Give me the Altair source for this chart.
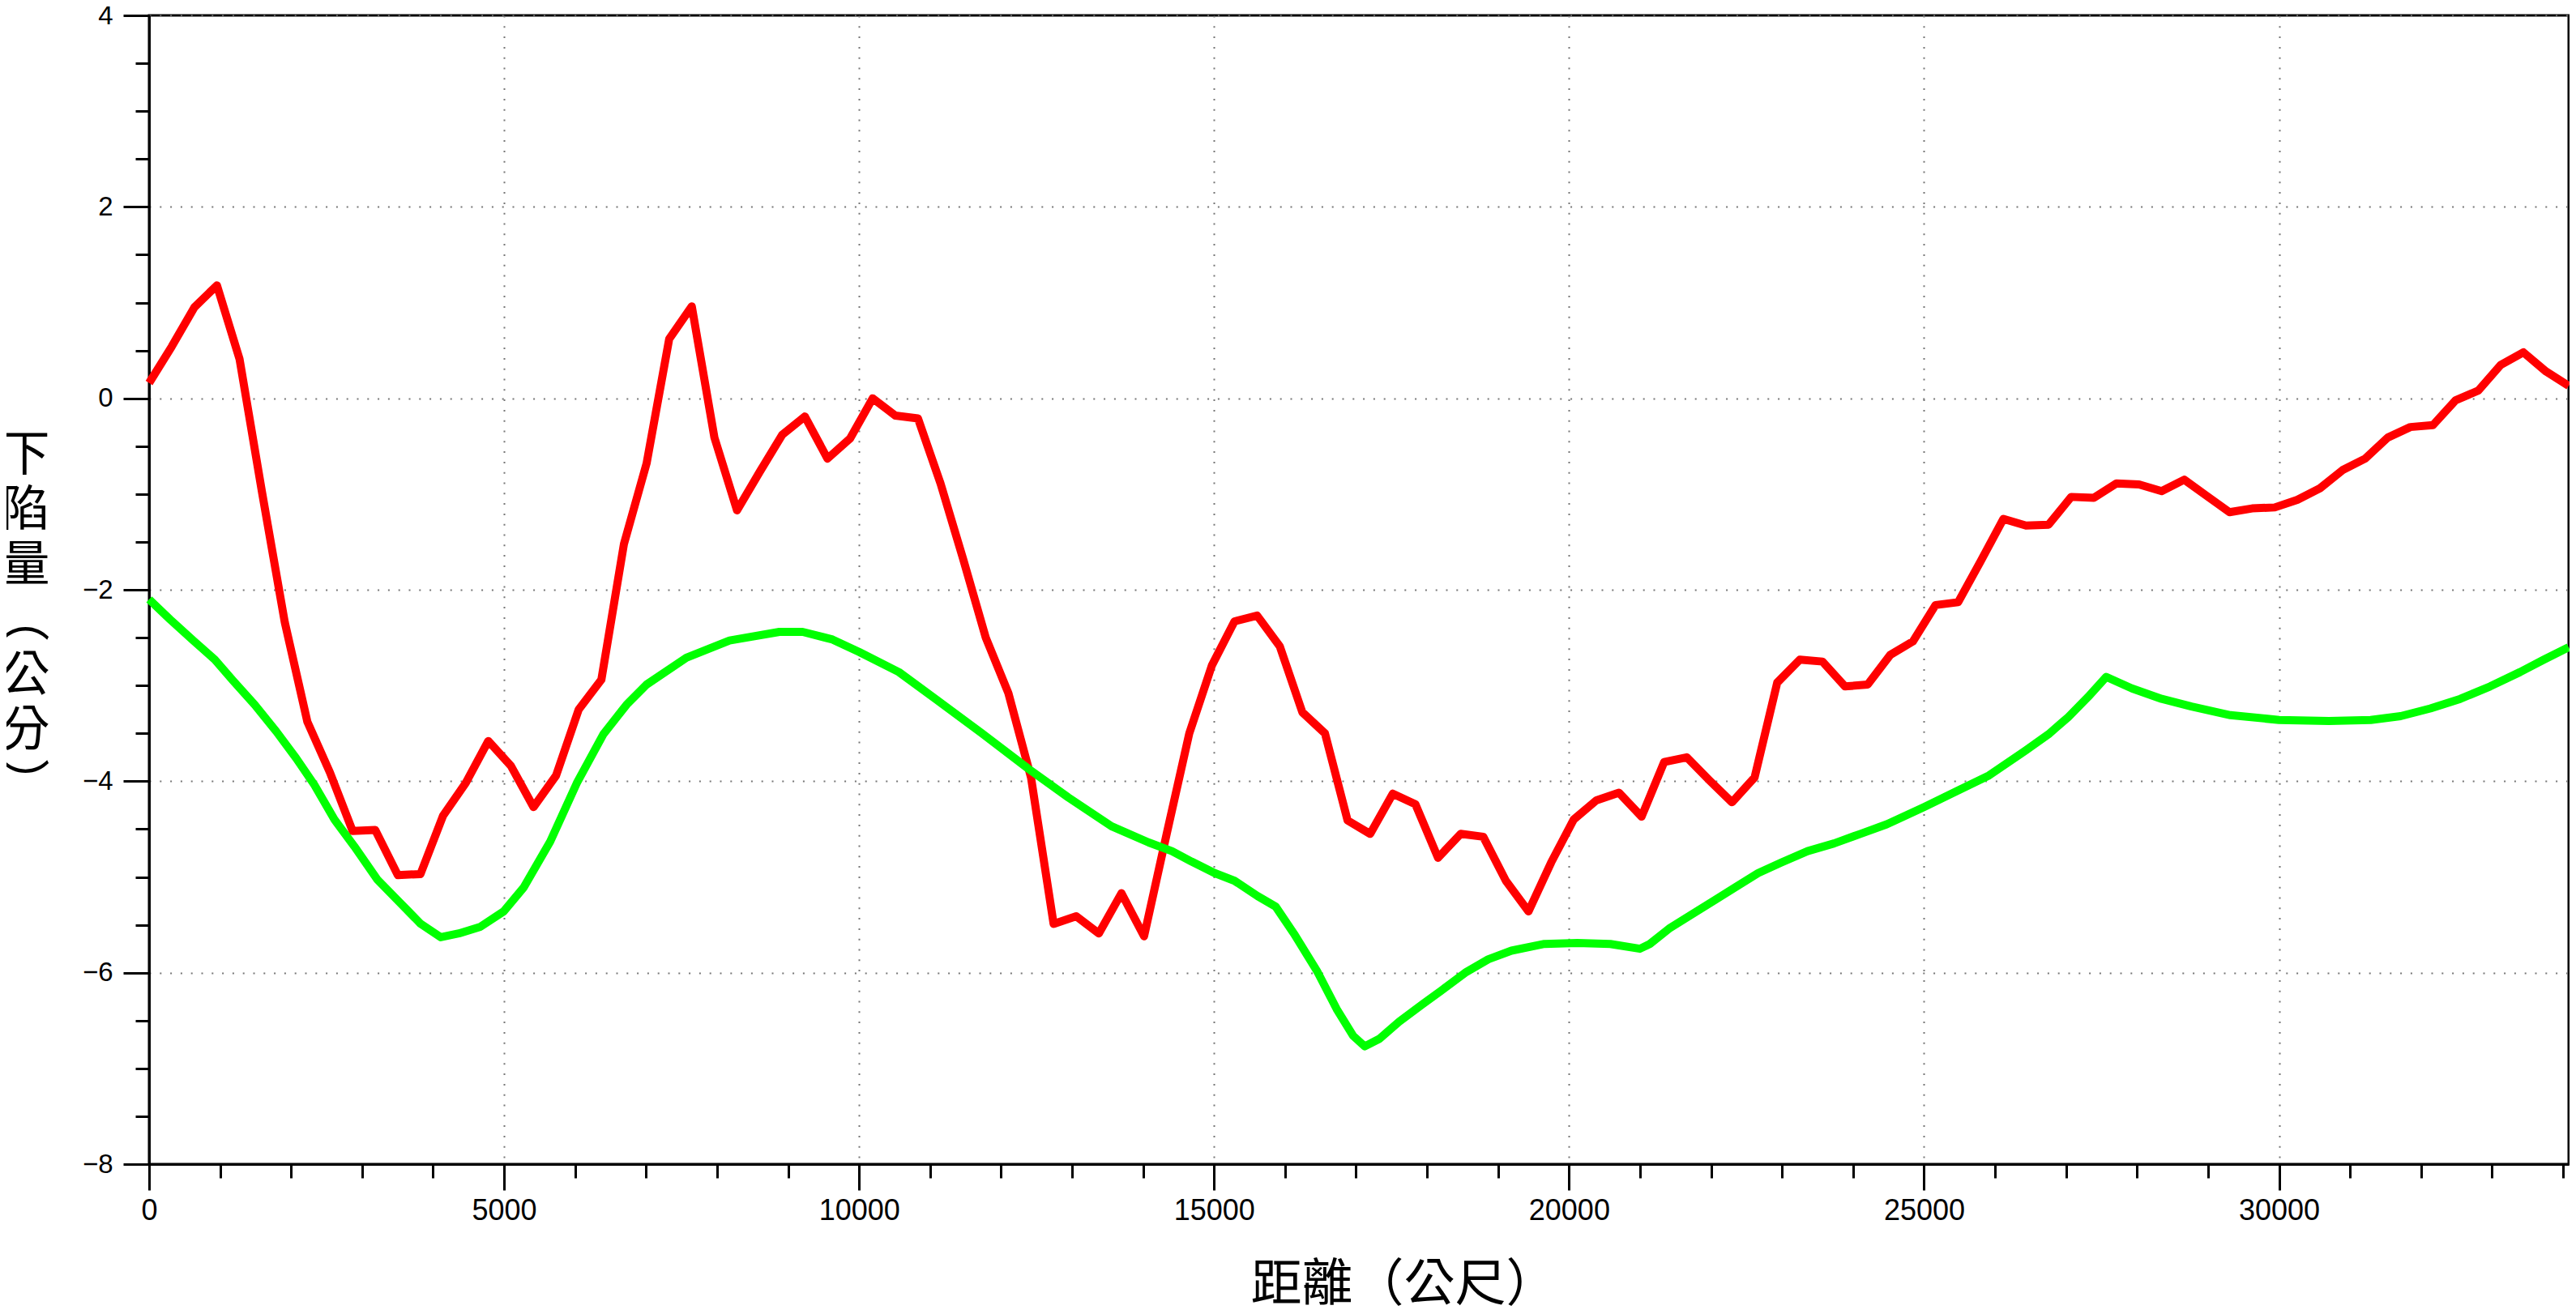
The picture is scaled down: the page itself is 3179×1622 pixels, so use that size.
import altair as alt
import pandas as pd

# ---- data ----
distance_m = [
    0, 318.5, 637, 955.5, 1274, 1592.5, 1911, 2229.5, 2548, 2866.5,
    3185, 3503.5, 3822, 4140.5, 4459, 4777.5, 5096, 5414.5, 5733, 6051.5,
    6370, 6688.5, 7007, 7325.5, 7644, 7962.5, 8281, 8599.5, 8918, 9236.5,
    9555, 9873.5, 10192, 10510.5, 10829, 11147.5, 11466, 11784.5, 12103, 12421.5,
    12740, 13058.5, 13377, 13695.5, 14014, 14332.5, 14651, 14969.5, 15288, 15606.5,
    15925, 16243.5, 16562, 16880.5, 17199, 17517.5, 17836, 18154.5, 18473, 18791.5,
    19110, 19428.5, 19747, 20065.5, 20384, 20702.5, 21021, 21339.5, 21658, 21976.5,
    22295, 22613.5, 22932, 23250.5, 23569, 23887.5, 24206, 24524.5, 24843, 25161.5,
    25480, 25798.5, 26117, 26435.5, 26754, 27072.5, 27391, 27709.5, 28028, 28346.5,
    28665, 28983.5, 29302, 29620.5, 29939, 30257.5, 30576, 30894.5, 31213, 31531.5,
    31850, 32168.5, 32487, 32805.5, 33124, 33442.5, 33761, 34079.5,
]
red_cm = [
    0.16, 0.54, 0.95, 1.18, 0.41, -0.99, -2.34, -3.38, -3.91, -4.52,
    -4.51, -4.98, -4.97, -4.36, -4.02, -3.58, -3.84, -4.27, -3.94, -3.25,
    -2.94, -1.52, -0.68, 0.62, 0.96, -0.41, -1.17, -0.77, -0.38, -0.19,
    -0.63, -0.42, 0.00, -0.18, -0.21, -0.89, -1.68, -2.50, -3.08, -3.96,
    -5.49, -5.41, -5.59, -5.17, -5.62, -4.55, -3.50, -2.79, -2.33, -2.27,
    -2.59, -3.28, -3.50, -4.41, -4.55, -4.13, -4.24, -4.80, -4.55, -4.58,
    -5.04, -5.36, -4.85, -4.40, -4.20, -4.12, -4.37, -3.80, -3.75, -3.99,
    -4.22, -3.96, -2.97, -2.73, -2.75, -3.01, -2.99, -2.68, -2.54, -2.16,
    -2.13, -1.70, -1.26, -1.33, -1.32, -1.03, -1.04, -0.89, -0.90, -0.97,
    -0.85, -1.02, -1.19, -1.15, -1.14, -1.06, -0.94, -0.75, -0.63, -0.41,
    -0.30, -0.28, -0.02, 0.08, 0.35, 0.48, 0.28, 0.13,
]
green_distance_m = [
    0, 295, 622, 926, 1183, 1487, 1791, 2072, 2329, 2610,
    2890, 3218, 3522, 3826, 4107, 4364, 4668, 4995, 5276, 5650,
    6024, 6398, 6726, 7007, 7568, 8176, 8877, 9205, 9626, 10000,
    10561, 11076, 11731, 12385, 12947, 13555, 14081, 14406, 14684, 15009,
    15288, 15613, 15868, 16123, 16448, 16727, 16959, 17122, 17330, 17609,
    17934, 18213, 18538, 18863, 19188, 19652, 20116, 20581, 20998, 21137,
    21408, 21733, 22059, 22337, 22663, 22988, 23360, 23732, 24103, 24475,
    25000, 25497, 25915, 26427, 26752, 27031, 27310, 27565, 27927, 28347,
    28768, 29315, 30000, 30702, 31291, 31712, 32132, 32553, 32973, 33394,
    33730, 34079,
]
green_cm = [
    -2.10, -2.31, -2.53, -2.73, -2.95, -3.20, -3.48, -3.76, -4.04, -4.40,
    -4.68, -5.03, -5.26, -5.49, -5.63, -5.59, -5.52, -5.36, -5.11, -4.63,
    -4.02, -3.51, -3.20, -2.99, -2.71, -2.53, -2.44, -2.44, -2.52, -2.65,
    -2.86, -3.14, -3.50, -3.87, -4.17, -4.47, -4.64, -4.73, -4.84, -4.96,
    -5.04, -5.20, -5.31, -5.59, -5.98, -6.38, -6.66, -6.77, -6.69, -6.51,
    -6.33, -6.18, -6.00, -5.86, -5.77, -5.70, -5.69, -5.70, -5.75, -5.70,
    -5.54, -5.39, -5.24, -5.11, -4.96, -4.85, -4.73, -4.65, -4.55, -4.45,
    -4.27, -4.09, -3.94, -3.68, -3.51, -3.33, -3.12, -2.91, -3.03, -3.14,
    -3.22, -3.31, -3.36, -3.37, -3.36, -3.32, -3.24, -3.14, -3.01, -2.86,
    -2.73, -2.60,
]

x_major_ticks = [0, 5000, 10000, 15000, 20000, 25000, 30000]
x_minor_ticks = [1000 * k for k in range(35)]
y_major_ticks = [-8, -6, -4, -2, 0, 2, 4]
y_minor_ticks = [-8 + 0.5 * k for k in range(25)]

x_title = "距離（公尺）"
y_title = ["下", "陷", "量", "︵", "公", "分", "︶"]

red_df = pd.DataFrame({"dist": distance_m, "val": red_cm})
green_df = pd.DataFrame({"dist": green_distance_m, "val": green_cm})

LABEL_FONT = "Liberation Sans"
CJK_FONT = "Noto Sans CJK TC"

x_scale = alt.Scale(domain=[0, 34080], nice=False, zero=False)
y_scale = alt.Scale(domain=[-8, 4], nice=False, zero=False)

x_axis_major = alt.Axis(
    orient="bottom", values=x_major_ticks, format="d",
    grid=True, gridColor="#777777", gridWidth=2, gridDash=[2, 10.8],
    domain=True, domainColor="black", domainWidth=3,
    ticks=True, tickSize=32, tickWidth=3, tickColor="black",
    labelFont=LABEL_FONT, labelFontSize=36, labelColor="black", labelPadding=8,
    labelFlush=False, labelOverlap=False,
    title=x_title, titleFont=CJK_FONT, titleFontSize=63, titleFontWeight="normal",
    titleColor="black", titleAnchor="start", titleAlign="center",
    titleX=1548, titleY=148, titleBaseline="middle",
)
y_axis_major = alt.Axis(
    orient="left", values=y_major_ticks, format="d",
    grid=True, gridColor="#777777", gridWidth=2, gridDash=[2, 10.8],
    domain=True, domainColor="black", domainWidth=3,
    ticks=True, tickSize=32, tickWidth=3, tickColor="black",
    labelFont=LABEL_FONT, labelFontSize=33, labelColor="black", labelPadding=13,
    labelFlush=False, labelOverlap=False,
    title=y_title, titleFont=CJK_FONT, titleFontSize=60, titleFontWeight="normal",
    titleColor="black", titleAngle=0, titleAlign="center", titleBaseline="top",
    titleLineHeight=68, titleX=-153, titleY=514,
)
x_axis_minor = alt.Axis(
    orient="bottom", values=x_minor_ticks, labels=False, grid=False, domain=False,
    ticks=True, tickSize=17, tickWidth=3, tickColor="black", title=None,
)
y_axis_minor = alt.Axis(
    orient="left", values=y_minor_ticks, labels=False, grid=False, domain=False,
    ticks=True, tickSize=17, tickWidth=3, tickColor="black", title=None,
)

red_line = alt.Chart(red_df).mark_line(color="#ff0000", strokeWidth=10, strokeJoin="round").encode(
    x=alt.X("dist:Q", scale=x_scale, axis=x_axis_major),
    y=alt.Y("val:Q", scale=y_scale, axis=y_axis_major),
)
green_line = alt.Chart(green_df).mark_line(color="#00ff00", strokeWidth=10, strokeJoin="round").encode(
    x=alt.X("dist:Q", scale=x_scale, axis=x_axis_minor),
    y=alt.Y("val:Q", scale=y_scale, axis=y_axis_minor),
)

chart = (
    alt.layer(red_line, green_line)
    .resolve_axis(x="independent", y="independent")
    .properties(
        width=2986, height=1418,
        autosize=alt.AutoSizeParams(type="none"),
        padding={"left": 176, "top": 11, "right": 1, "bottom": 176},
        background="white",
    )
    .configure_view(stroke="black", strokeWidth=3)
)

chart.save("out.html", embed_options={"renderer": "svg", "actions": False})
